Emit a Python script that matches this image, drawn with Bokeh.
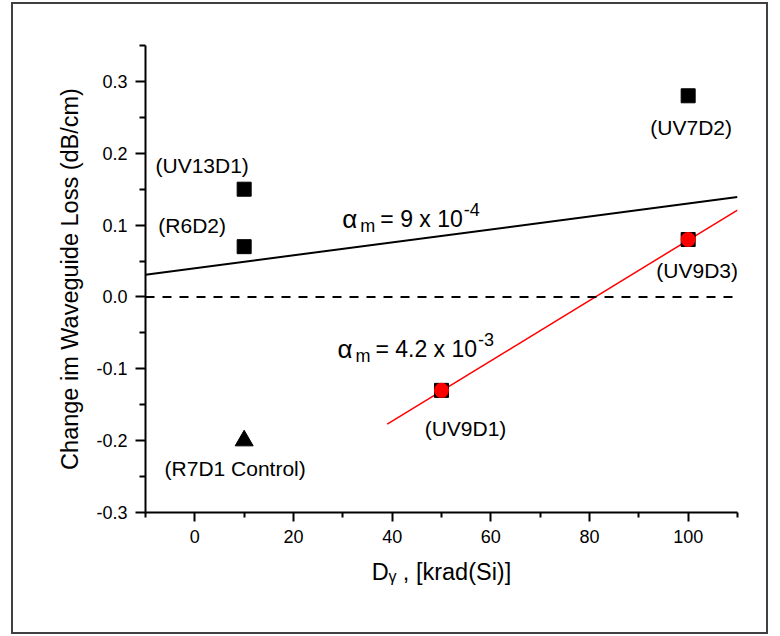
from bokeh.plotting import figure
from bokeh.models import Range1d, FixedTicker, PrintfTickFormatter, Span, Label
from bokeh.embed import file_html
from bokeh.resources import INLINE

# ---------------- data ----------------
sq_names = ["(UV13D1)", "(R6D2)", "(UV7D2)"]
sq_x = [10, 10, 100]
sq_y = [0.15, 0.07, 0.28]

ctrl_name = "(R7D1 Control)"
ctrl_x = [10]
ctrl_y = [-0.20]

uv9_names = ["(UV9D1)", "(UV9D3)"]
uv9_x = [50, 100]
uv9_y = [-0.13, 0.08]

black_fit_x = [-10, 110]
black_fit_y = [0.031, 0.139]
red_fit_x = [39, 110]
red_fit_y = [-0.177, 0.121]

x_major = [0, 20, 40, 60, 80, 100]
x_minor = [-10, 10, 30, 50, 70, 90, 110]
y_major = [-0.3, -0.2, -0.1, 0.0, 0.1, 0.2, 0.3]
y_minor = [-0.25, -0.15, -0.05, 0.05, 0.15, 0.25, 0.35]

x_title = "D\u1d67 , [krad(Si)]"
y_title = "Change im Waveguide Loss (dB/cm)"
fit_black_text = ("= 9 x 10", "-4")
fit_red_text = ("= 4.2 x 10", "-3")

FONT = "Liberation Sans"

# ---------------- figure ----------------
p = figure(width=757, height=632,
           x_range=Range1d(-10, 110), y_range=Range1d(-0.3, 0.35),
           output_backend="svg", toolbar_location=None,
           min_border_left=132, min_border_right=33,
           min_border_top=41, min_border_bottom=124)
p.margin = (2, 0, 0, 11)
p.styles = {"border": "2px solid #404040"}
p.outline_line_color = None
p.xgrid.visible = False
p.ygrid.visible = False
p.background_fill_color = "white"
p.border_fill_color = "white"

for ax in (p.xaxis[0], p.yaxis[0]):
    ax.axis_line_width = 2
    ax.axis_line_color = "black"
    ax.major_tick_in = 0
    ax.minor_tick_in = 0
    ax.major_tick_line_width = 2
    ax.minor_tick_line_width = 2
    ax.major_label_text_font = FONT
    ax.major_label_text_font_size = "18px"
    ax.major_label_text_color = "black"
    ax.major_label_standoff = 8
    ax.axis_label_text_font = "Liberation Sans, DejaVu Sans"
    ax.axis_label_text_font_style = "normal"
    ax.axis_label_text_font_size = "23.5px"
    ax.axis_label_text_color = "black"

xa = p.xaxis[0]
xa.ticker = FixedTicker(ticks=x_major, minor_ticks=x_minor)
xa.major_tick_out = 9
xa.minor_tick_out = 5
xa.axis_label = x_title
xa.axis_label_standoff = 13

ya = p.yaxis[0]
ya.ticker = FixedTicker(ticks=y_major, minor_ticks=y_minor)
ya.formatter = PrintfTickFormatter(format="%.1f")
ya.major_tick_out = 10
ya.minor_tick_out = 6
ya.axis_label = y_title
ya.axis_label_standoff = 10

# zero line
p.add_layout(Span(location=0, dimension="width", line_color="black",
                  line_width=2, line_dash="9 8"))

# fit lines
p.line(black_fit_x, black_fit_y, line_color="black", line_width=2)
p.line(red_fit_x, red_fit_y, line_color="#ff0000", line_width=1.5)

# markers
p.scatter(sq_x, sq_y, marker="square", size=14, color="black")
p.scatter(ctrl_x, ctrl_y, marker="triangle", size=18, color="black")
p.scatter(uv9_x, uv9_y, marker="square", size=14, color="black")
p.scatter(uv9_x, uv9_y, marker="circle", size=15, fill_color="#ff0000",
          line_color=None)

# point labels (offsets in px: dx right, dy down from the point)
offsets = {
    "(UV13D1)": (-42, -24),
    "(R6D2)": (-52, -21),
    "(UV7D2)": (3, 32),
    "(UV9D3)": (9, 31),
    "(UV9D1)": (24, 38),
    "(R7D1 Control)": (-9, 28),
}
pts = list(zip(sq_names, sq_x, sq_y)) + list(zip(uv9_names, uv9_x, uv9_y)) + \
      [(ctrl_name, ctrl_x[0], ctrl_y[0])]
for name, x, y in pts:
    dx, dy = offsets[name]
    p.add_layout(Label(x=x, y=y, x_offset=dx, y_offset=-dy, text=name,
                       text_font=FONT, text_font_size="21px",
                       text_color="black", text_align="center",
                       text_baseline="middle"))

# Arial / Liberation Sans advance widths (per em)
W = {" ": .278, "=": .584, ".": .278, "x": .5, "-": .333}
def width(s, px):
    return sum(W.get(c, .556) for c in s) * px

def alpha_label(x, y, main, sup):
    # x, y: data anchor at left of alpha, on the text baseline
    kw = dict(text_font=FONT, text_color="black", text_baseline="alphabetic",
              text_align="left")
    p.add_layout(Label(x=x, y=y, text="\u03b1", text_font_size="26px", **kw))
    p.add_layout(Label(x=x, y=y, x_offset=18, y_offset=-7, text="m",
                       text_font_size="18px", **kw))
    p.add_layout(Label(x=x, y=y, x_offset=38, text=main,
                       text_font_size="23px", **kw))
    p.add_layout(Label(x=x, y=y, x_offset=39 + width(main, 23), y_offset=9,
                       text=sup, text_font_size="18px", **kw))

alpha_label(29.9, 0.109, *fit_black_text)
alpha_label(28.9, -0.072, *fit_red_text)

open("out.html", "w").write(file_html(p, INLINE))
